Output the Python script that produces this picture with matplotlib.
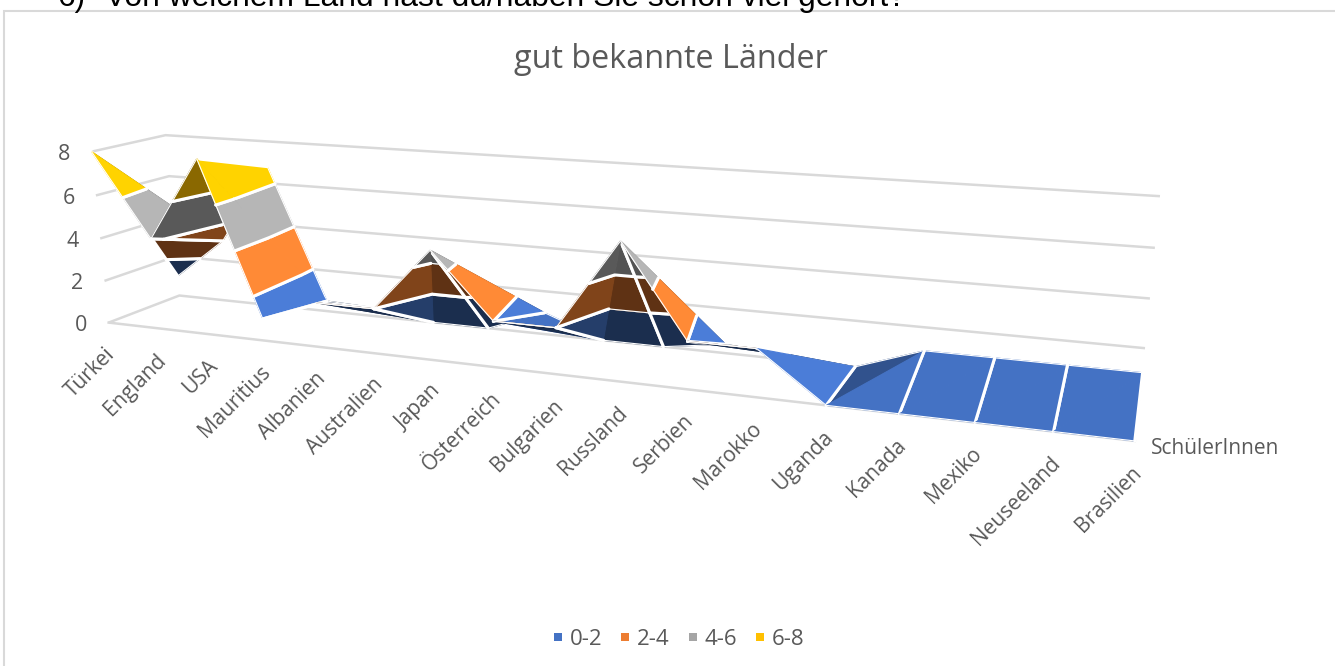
#Surface chart "gut bekannte Laender", drawn as a strip of triangles in 2D
import numpy as np
import matplotlib
matplotlib.use('Agg')
import matplotlib.pyplot as plt
from matplotlib.patches import Polygon, Rectangle

plt.rcParams['font.family'] = ['Open Sans', 'DejaVu Sans']

#Data
laender = ['Türkei', 'England', 'USA', 'Mauritius', 'Albanien', 'Australien', 'Japan', 'Österreich',
           'Bulgarien', 'Russland', 'Serbien', 'Marokko', 'Uganda', 'Kanada', 'Mexiko', 'Neuseeland', 'Brasilien']
vorne = [8, 4.2, 8, 1, 2, 2, 4.8, 2, 2, 5.85, 2, 2, 0, 0, 0, 0, 0]
hinten = [1, 3, 6.8, 0.5, 0.4, 0, 0, 1, 0, 0, 0.4, 0.2, 0, 1, 1, 1, 1]
stufen = [0, 2, 4, 6, 8]
band_namen = ['0-2', '2-4', '4-6', '6-8']
band_farben = ['#4472C4', '#ED7D31', '#A5A5A5', '#FFC000']
band_dunkel = [0.40, 0.40, 0.50, 0.53]

#Projection from (category, depth, value) to image pixels, fitted on the box corners
ecken_3d = np.array([[0,0,0],[0,1,0],[1,1,0],[1,0,0],[0,0,1],[0,1,1],[1,1,1]], float)
ecken_px = np.array([[108,323],[180,295],[1140,398],[1135,440],[92,152],[165,135],[1160,196]], float)
A = []
b = []
for (X,Y,Z),(u,v) in zip(ecken_3d, ecken_px):
    A.append([X,Y,Z,1,0,0,0,0,-u*X,-u*Y,-u*Z]); b.append(u)
    A.append([0,0,0,0,X,Y,Z,1,-v*X,-v*Y,-v*Z]); b.append(v)
H = np.linalg.lstsq(np.array(A), np.array(b), rcond=None)[0]
H = np.append(H, 1).reshape(3,4)

n = len(laender)
def proj(c, d, w):
    p = H @ np.array([c/(n-1), d, w/8, 1])
    return p[0]/p[2], p[1]/p[2]

#Cut a triangle to one value band
def clip(poly, level, keep_above):
    out = []
    for i in range(len(poly)):
        p = poly[i]; q = poly[(i+1) % len(poly)]
        pin = p[2] >= level if keep_above else p[2] <= level
        qin = q[2] >= level if keep_above else q[2] <= level
        if pin:
            out.append(p)
        if pin != qin:
            t = (level-p[2])/(q[2]-p[2])
            r = p + t*(q-p)
            r[2] = level
            out.append(r)
    return out

def shade(farbe, f):
    rgb = np.array(matplotlib.colors.to_rgb(farbe))*f
    return tuple(np.clip(rgb, 0, 1))

#Brightness from the slope of the plane
def helligkeit(dc, dd, k):
    if dc < -1:
        return 1.1
    if dd < -4:
        return band_dunkel[k]
    if dc > 1.5:
        return 0.54
    if dd < -1.5:
        return band_dunkel[k]
    return np.interp(dc, [0, 1], [1.0, 0.72])

fig = plt.figure(figsize=(13.35, 6.66), dpi=100)
ax = fig.add_axes([0, 0, 1, 1])
ax.set_xlim(0, 1335)
ax.set_ylim(666, 0)
ax.axis('off')

#Chart frame and the clipped sentence above it
ax.add_patch(Rectangle((4, 11), 1340, 700, fc='white', ec='#D9D9D9', lw=1.5, zorder=1))
ax.text(57, 6, '6)', family='Liberation Sans', fontsize=22.9, color='black', va='baseline', ha='left', zorder=2)
ax.text(105, 6, 'Von welchem Land hast du/haben Sie schon viel gehört?', family='Liberation Sans',
        fontsize=22.9, color='black', va='baseline', ha='left', zorder=2)

#Walls and floor
grau = '#D9D9D9'
for s in stufen:
    xs, ys = zip(proj(0,0,s), proj(0,1,s), proj(n-1,1,s))
    ax.plot(xs, ys, color=grau, lw=1.8, zorder=2, solid_capstyle='butt')
xs, ys = zip(proj(0,0,0), proj(n-1,0,0))
ax.plot(xs, ys, color=grau, lw=1.8, zorder=2)

#Triangles of the surface: the diagonal of each cell goes through its highest corner
dreiecke = []
for i in range(n-1):
    f0 = (i, 0, vorne[i]); f1 = (i+1, 0, vorne[i+1])
    b0 = (i, 1, hinten[i]); b1 = (i+1, 1, hinten[i+1])
    if max(vorne[i], hinten[i+1]) >= max(vorne[i+1], hinten[i]):
        dreiecke.append(((f0, f1, b1), (f0, b1)))
        dreiecke.append(((f0, b1, b0), (f0, b1)))
    else:
        dreiecke.append(((f0, f1, b0), (f1, b0)))
        dreiecke.append(((f1, b1, b0), (f1, b0)))
dreiecke.sort(key=lambda t: (-sum(p[1] for p in t[0]), t[0][0][0]))

z = 5
for tri, diag in dreiecke:
    P = np.array(tri, float)
    M = np.c_[P[:,0], P[:,1], np.ones(3)]
    dc, dd, _ = np.linalg.solve(M, P[:,2])
    D0 = np.array(diag[0], float); D1 = np.array(diag[1], float)
    for k in range(4):
        f = helligkeit(dc, dd, k)
        poly = [p.copy() for p in P]
        poly = clip(poly, stufen[k], True)
        if poly:
            poly = clip(poly, stufen[k+1], False)
        if len(poly) < 3:
            continue
        pts = [proj(*p) for p in poly]
        ax.add_patch(Polygon(pts, closed=True, fc=shade(band_farben[k], f), ec=shade(band_farben[k], f),
                             lw=0.8, zorder=z))
        z += 1
        for j in range(len(poly)):
            p = poly[j]; q = poly[(j+1) % len(poly)]
            auf_diag = True
            for r in (p, q):
                kreuz = (D1[0]-D0[0])*(r[1]-D0[1]) - (D1[1]-D0[1])*(r[0]-D0[0])
                if abs(kreuz) > 1e-6:
                    auf_diag = False
            if auf_diag:
                continue
            a = proj(*p); e = proj(*q)
            #The long rims of the strip get a thin line, bands and cells a wide one
            rand = (p[1] == q[1])
            ax.plot([a[0], e[0]], [a[1], e[1]], color='white', lw=0.8 if rand else 2.2, zorder=z,
                    solid_capstyle='round')
        z += 1

#Texts
text_grau = '#595959'
ax.text(671, 59, 'gut bekannte Länder', fontsize=23.3, color=text_grau, ha='center', va='center', zorder=z)
for s in stufen:
    x, y = proj(0, 0, s)
    ax.text(x-21, y+3, str(s), fontsize=15.5, color=text_grau, ha='right', va='center', zorder=z)
for i, name in enumerate(laender):
    x, y = proj(i, 0, 0)
    ax.text(x-4, y+21, name, fontsize=15, color=text_grau, rotation=45, ha='right', va='top',
            rotation_mode='anchor', zorder=z)
ax.text(1151, 448, 'SchülerInnen', fontsize=15, color=text_grau, ha='left', va='center', zorder=z)

#Legend
leg_x = [558, 625, 692.5, 760]
for x, name, farbe in zip(leg_x, band_namen, band_farben):
    ax.add_patch(Rectangle((x-4, 633), 8, 8, fc=farbe, ec='none', zorder=z))
    ax.text(x+12, 639.5, name, fontsize=16, color=text_grau, ha='left', va='center', zorder=z)

plt.savefig('out.png', dpi=100)
